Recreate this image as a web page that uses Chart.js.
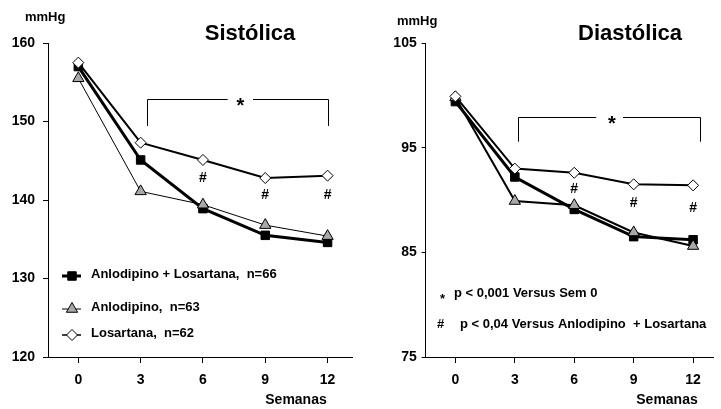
<!DOCTYPE html>
<html>
<head>
<meta charset="utf-8">
<script src="https://cdn.jsdelivr.net/npm/chart.js@4.4.0/dist/chart.umd.min.js"></script>
<style>
  body { margin: 0; background: #fff; }
  #wrap { position: relative; width: 721px; height: 409px; }
  .box { position: absolute; top: 0; height: 409px; }
</style>
</head>
<body>
<div id="wrap">
  <div class="box" style="left:0;width:360px"><canvas id="sis"></canvas></div>
  <div class="box" style="left:360px;width:361px"><canvas id="dia"></canvas></div>
</div>
<script>
const weeks = [0, 3, 6, 9, 12];
const seriesNames = ['Anlodipino + Losartana,  n=66', 'Anlodipino,  n=63', 'Losartana,  n=62'];

// Sistólica (mmHg)
const sisComb = [157.0, 145.1, 138.9, 135.5, 134.6];
const sisAnlo = [155.5, 141.1, 139.4, 136.8, 135.4];
const sisLos  = [157.5, 147.3, 145.1, 142.8, 143.1];
const sisTicks = [120, 130, 140, 150, 160];
const sisHash = [[6, 142.8], [9, 140.6], [12, 140.6]];

// Diastólica (mmHg)
const diaComb = [99.4, 92.2, 89.1, 86.5, 86.2];
const diaAnlo = [99.8, 89.9, 89.5, 86.9, 85.6];
const diaLos  = [99.9, 93.0, 92.6, 91.5, 91.4];
const diaTicks = [75, 85, 95, 105];
const diaHash = [[6, 91.0], [9, 89.7], [12, 89.2]];

const FONT = '"Liberation Sans", Arial, sans-serif';
const TRI_GRAY = '#a8a8a8';

function series(label, data, style, fill, radius, width) {
    return {
        label: label,
        data: data.map((v, i) => ({ x: weeks[i], y: v })),
        borderColor: '#000',
        borderWidth: width,
        pointStyle: style,
        pointRadius: radius,
        pointBackgroundColor: fill,
        pointBorderColor: '#000',
        pointBorderWidth: 1,
        tension: 0,
        fill: false
    };
}

function extrasPlugin(cfg) {
    return {
        id: 'extras',
        afterDatasetsDraw(chart) {
            const ctx = chart.ctx;
            const xs = chart.scales.x, ys = chart.scales.y;
            ctx.save();
            ctx.fillStyle = '#000';
            ctx.strokeStyle = '#000';

            // title and unit
            ctx.font = 'bold 22px ' + FONT;
            ctx.textAlign = 'center';
            ctx.textBaseline = 'alphabetic';
            ctx.fillText(cfg.title, cfg.titleX, 40);
            ctx.font = 'bold 13px ' + FONT;
            ctx.textAlign = 'left';
            ctx.fillText('mmHg', cfg.unitX, cfg.unitY);

            // x axis title
            ctx.font = 'bold 14px ' + FONT;
            ctx.textAlign = 'center';
            ctx.textBaseline = 'middle';
            ctx.fillText('Semanas', cfg.semX, 400);

            // # marks
            ctx.font = 'bold 14px ' + FONT;
            cfg.hash.forEach(h => {
                ctx.fillText('#', xs.getPixelForValue(h[0]), ys.getPixelForValue(h[1]));
            });

            // bracket with *
            const b = cfg.bracket;
            const x1 = xs.getPixelForValue(b.from), x2 = xs.getPixelForValue(b.to);
            const g1 = xs.getPixelForValue(b.gapFrom), g2 = xs.getPixelForValue(b.gapTo);
            const yt = Math.round(ys.getPixelForValue(b.top)) + 0.5, yb = ys.getPixelForValue(b.bottom);
            ctx.lineWidth = 1;
            ctx.beginPath();
            ctx.moveTo(Math.round(x1) + 0.5, yb);
            ctx.lineTo(Math.round(x1) + 0.5, yt);
            ctx.lineTo(g1, yt);
            ctx.moveTo(g2, yt);
            ctx.lineTo(Math.round(x2) + 0.5, yt);
            ctx.lineTo(Math.round(x2) + 0.5, yb);
            ctx.stroke();
            ctx.font = 'bold 20px ' + FONT;
            ctx.textBaseline = 'alphabetic';
            ctx.fillText('*', xs.getPixelForValue(b.star), ys.getPixelForValue(b.top) + 13);

            if (cfg.legend) drawLegend(chart, ctx);
            if (cfg.notes) drawNotes(ctx);
            ctx.restore();
        }
    };
}

function drawLegend(chart, ctx) {
    const rows = [276, 309, 335];
    ctx.font = 'bold 13px ' + FONT;
    ctx.textAlign = 'left';
    ctx.textBaseline = 'middle';
    chart.data.datasets.slice().reverse().forEach((d, i) => {
        const y = rows[i];
        ctx.strokeStyle = '#000';
        ctx.lineWidth = d.legendWidth;
        ctx.beginPath();
        ctx.moveTo(62, y);
        ctx.lineTo(81, y);
        ctx.stroke();
        ctx.fillStyle = d.pointBackgroundColor;
        ctx.lineWidth = 1;
        Chart.helpers.drawPoint(ctx, { pointStyle: d.pointStyle, radius: d.pointRadius, rotation: 0, borderWidth: 1 }, 72, y);
        ctx.fillStyle = '#000';
        ctx.fillText(d.label, 91, y - 2);
    });
}

function drawNotes(ctx) {
    ctx.font = 'bold 13px ' + FONT;
    ctx.textAlign = 'left';
    ctx.textBaseline = 'middle';
    ctx.fillText('*', 80, 299);
    ctx.fillText('p < 0,001 Versus Sem 0', 94, 293);
    ctx.fillText('#', 77, 324);
    ctx.fillText('p < 0,04 Versus Anlodipino  + Losartana', 100, 324);
}

function makeChart(id, o) {
    const datasets = [
        series(seriesNames[2], o.los, 'rectRot', '#fff', 5.5, 2),
        series(seriesNames[1], o.anlo, 'triangle', TRI_GRAY, 6.5, o.anloWidth),
        series(seriesNames[0], o.comb, 'rect', '#000', 6, 3)
    ];
    datasets[0].legendWidth = 1.5;
    datasets[1].legendWidth = 1;
    datasets[2].legendWidth = 3;

    const tickFont = { family: FONT, size: 14, weight: 'bold' };
    return new Chart(document.getElementById(id), {
        type: 'line',
        data: { datasets: datasets },
        options: {
            responsive: true,
            maintainAspectRatio: false,
            animation: false,
            layout: { padding: { top: 43, left: 0, right: 0, bottom: 0 } },
            plugins: {
                legend: { display: false },
                tooltip: { enabled: false }
            },
            scales: {
                x: {
                    type: 'linear',
                    min: o.xMin,
                    max: o.xMax,
                    afterBuildTicks: s => { s.ticks = weeks.map(v => ({ value: v })); },
                    afterFit: s => { s.height = 52; },
                    grid: { drawOnChartArea: false, color: '#000', tickLength: 6 },
                    border: { color: '#000', width: 1 },
                    ticks: { color: '#000', font: tickFont, padding: 9, maxRotation: 0 }
                },
                y: {
                    min: o.ticks[0],
                    max: o.ticks[o.ticks.length - 1],
                    afterBuildTicks: s => { s.ticks = o.ticks.map(v => ({ value: v })); },
                    afterFit: s => { s.width = o.yWidth; },
                    grid: { drawOnChartArea: false, color: '#000', tickLength: o.tickLen },
                    border: { color: '#000', width: 1 },
                    ticks: { color: '#000', font: tickFont, padding: o.tickPad }
                }
            }
        },
        plugins: [extrasPlugin(o.extras)]
    });
}

makeChart('sis', {
    comb: sisComb, anlo: sisAnlo, los: sisLos, ticks: sisTicks, anloWidth: 1,
    xMin: -1.46, xMax: 13.2, yWidth: 48, tickLen: 5, tickPad: 8,
    extras: {
        title: 'Sistólica', titleX: 250, unitX: 25, unitY: 21, semX: 296,
        hash: sisHash, legend: true, notes: false,
        bracket: { from: 3.29, to: 12.03, gapFrom: 7.19, gapTo: 8.41, star: 7.8, top: 152.87, bottom: 149.43 }
    }
});

makeChart('dia', {
    comb: diaComb, anlo: diaAnlo, los: diaLos, ticks: diaTicks, anloWidth: 2,
    xMin: -1.5, xMax: 13.03, yWidth: 65.7, tickLen: 4, tickPad: 5,
    extras: {
        title: 'Diastólica', titleX: 270, unitX: 37, unitY: 25, semX: 307,
        hash: diaHash, legend: false, notes: true,
        bracket: { from: 3.17, to: 12.33, gapFrom: 7.11, gapTo: 8.46, star: 7.9, top: 97.96, bottom: 95.57 }
    }
});
</script>
</body>
</html>
